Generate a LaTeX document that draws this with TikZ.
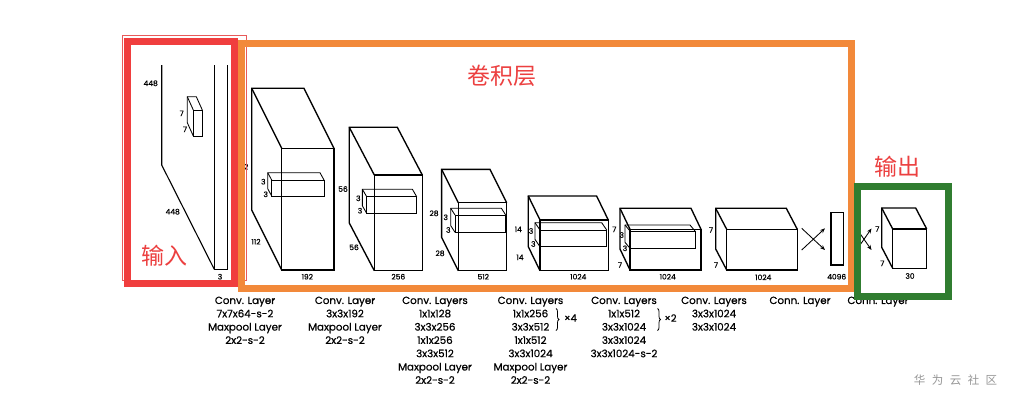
\documentclass[tikz,border=0pt]{standalone}
\usepackage{fontspec}
\setmainfont{Poppins}
\newfontfamily\capfont{Poppins}[FakeBold=0.6]
\newfontfamily\cjk{Noto Sans CJK SC}
\usetikzlibrary{arrows.meta,decorations.pathreplacing}
\definecolor{myred}{RGB}{240,62,62}
\definecolor{thinred}{RGB}{232,90,90}
\definecolor{myorange}{RGB}{242,137,58}
\definecolor{mygreen}{RGB}{48,125,48}
\definecolor{lbl}{RGB}{236,64,64}
\definecolor{wm}{RGB}{150,150,150}
% front rectangle (x1,y1)-(x2,y2), depth offset (dx,dy)
\newcommand\cuboid[7][cubeline]{%
  \draw[#1] (#2,#3) rectangle (#4,#5);
  \draw[#1] (#2,#5) -- ({#2+#6},{#5+#7}) -- ({#2+#6},{#3+#7}) -- ({#4+#6},{#3+#7}) -- (#4,#3);
  \draw[#1] (#2,#3) -- ({#2+#6},{#3+#7});
}
\begin{document}
\begin{tikzpicture}[x=1pt,y=-1pt,
  cubeline/.style={line width=1.35pt,black,line join=miter},
  kern/.style={line width=0.85pt,black},
  num/.style={font=\capfont\fontsize{7.5}{8}\selectfont,inner sep=0pt},
  captxt/.style={font=\capfont\fontsize{10.3}{13.3}\selectfont,align=center,anchor=north,inner sep=0pt},
  cjklbl/.style={font=\cjk\fontsize{23}{23}\selectfont,text=lbl,inner sep=0pt},
  framebox/.style={line width=7pt},
  arr/.style={-{Stealth[length=5pt,width=4pt]},line width=0.85pt}]
\useasboundingbox (0,0) rectangle (1010,400);
\fill[white] (0,0) rectangle (1010,400);

% ---- hidden-under-frame label
\node[num,anchor=east] (l112a) at (248.5,166.7) {112};

% ---- input slab
\draw[line width=1.1pt] (161.7,65) -- (161.7,165) -- (214.3,269.3);
\draw[line width=1.4pt] (214.3,65) -- (214.3,269.3) -- (227.3,269.3) -- (227.3,65);
\cuboid[kern]{193.3}{110}{202.3}{136}{-6}{-13.3}
\node[num] (l448a) at (150.7,83.3) {448};
\node[num] (l448b) at (172.7,211.7) {448};
\node[num] (l3in) at (220,276.7) {3};
\node[num] (l7a) at (181.7,113.3) {7};
\node[num] (l7b) at (185,129.3) {7};

% ---- cube 1
\cuboid{281.7}{148.3}{334}{270}{-30}{-60}
\cuboid[kern]{271.7}{180}{324}{196}{-4}{-7.3}
\node[num] (c1k1) at (263.3,181.7) {3};
\node[num] (c1k2) at (265.7,194.3) {3};
\node[num] (c1d) at (256,241.7) {112};
\node[num] (c1w) at (307.3,276.7) {192};

% ---- cube 2
\cuboid{374.3}{175}{422.3}{270.7}{-25}{-47.7}
\cuboid[kern]{366.7}{196.7}{416.7}{213.3}{-4.3}{-7.4}
\node[num] (c2h) at (343,189) {56};
\node[num] (c2k1) at (358.3,198.3) {3};
\node[num] (c2k2) at (360,210.7) {3};
\node[num] (c2d) at (354,247.3) {56};
\node[num] (c2w) at (398.3,276.7) {256};

% ---- cube 3
\cuboid{458.3}{202.7}{506.7}{270.7}{-16.7}{-33.3}
\cuboid[kern]{455}{215}{505.7}{232.3}{-4.3}{-6.7}
\node[num] (c3h) at (434,213.3) {28};
\node[num] (c3k1) at (445.7,217.3) {3};
\node[num] (c3k2) at (448.3,230) {3};
\node[num] (c3d) at (440,253.3) {28};
\node[num] (c3w) at (483.3,276.7) {512};

% ---- cube 4
\cuboid{540}{220}{608.3}{270.7}{-11.7}{-24}
\cuboid[kern]{540}{230}{606.7}{246.7}{-5}{-7.3}
\node[num] (c4h) at (518.3,229.3) {14};
\node[num] (c4k1) at (531,231) {3};
\node[num] (c4k2) at (533.3,244) {3};
\node[num] (c4d) at (520,257.3) {14};
\node[num] (c4w) at (578.3,276.7) {1024};

% ---- cube 5
\cuboid{630}{229.3}{701}{270}{-10}{-21}
\cuboid[kern]{630}{231}{695}{248.3}{-5}{-6}
\node[num] (c5h) at (614.3,229.3) {7};
\node[num] (c5k1) at (621.7,235) {3};
\node[num] (c5k2) at (625,248.3) {3};
\node[num] (c5d) at (620,265) {7};
\node[num] (c5w) at (667.7,276.7) {1024};

% ---- cube 6
\cuboid{726.7}{229.3}{797.3}{270}{-11}{-21}
\node[num] (c6h) at (711,230) {7};
\node[num] (c6d) at (716,265) {7};
\node[num] (c6w) at (763.3,277.3) {1024};

% ---- fc 4096
\draw[cubeline] (831,212.7) rectangle (843.3,265);
\node[num] (fcw) at (836.7,276.7) {4096};

% ---- output cube
\cuboid{892.7}{229}{926.7}{268.3}{-11}{-21}
\node[num] (oh) at (877.3,229) {7};
\node[num] (od) at (882.3,263.3) {7};
\node[num] (ow) at (910,276) {30};

% ---- cross arrows
\coordinate (xa1) at (801.7,228.3); \coordinate (xa2) at (825,250);
\coordinate (xa3) at (801.7,250);   \coordinate (xa4) at (825,228.3);
\draw[arr] (xa1) -- (xa2);
\draw[arr] (xa3) -- (xa4);
\coordinate (xb1) at (856.5,228.5); \coordinate (xb2) at (871.5,250);
\coordinate (xb3) at (856.5,250);   \coordinate (xb4) at (871.5,228.5);
\draw[arr] (xb1) -- (xb2);
\draw[arr] (xb3) -- (xb4);

% ---- captions
\node[captxt] (t1) at (245,296.5) {Conv. Layer\\7x7x64-s-2\\Maxpool Layer\\2x2-s-2};
\node[captxt] (t2) at (345,296.5) {Conv. Layer\\3x3x192\\Maxpool Layer\\2x2-s-2};
\node[captxt] (t3) at (435,296.5) {Conv. Layers\\1x1x128\\3x3x256\\1x1x256\\3x3x512\\Maxpool Layer\\2x2-s-2};
\node[captxt] (t4) at (530.5,296.5) {Conv. Layers\\1x1x256\\3x3x512\\1x1x512\\3x3x1024\\Maxpool Layer\\2x2-s-2};
\node[captxt] (t5) at (624,296.5) {Conv. Layers\\1x1x512\\3x3x1024\\3x3x1024\\3x3x1024-s-2};
\node[captxt] (t6) at (714,296.5) {Conv. Layers\\3x3x1024\\3x3x1024};
\node[captxt] (t7) at (800,296.5) {Conn. Layer};
\node[captxt] (t8) at (878,296.5) {Conn. Layer};

\draw[line width=0.8pt,decorate,decoration={brace,amplitude=3pt}] (556,308.5) -- (556,330.5);
\node[font=\capfont\fontsize{10}{10}\selectfont,inner sep=0pt] (x4) at (570.5,318) {×4};
\draw[line width=0.8pt,decorate,decoration={brace,amplitude=3pt}] (657.5,308.5) -- (657.5,330.5);
\node[font=\capfont\fontsize{10}{10}\selectfont,inner sep=0pt] (x2) at (670.5,318) {×2};

% ---- frames
\draw[thinred,line width=0.8pt] (122.7,35) rectangle (246,280);
\draw[myred,framebox] (127,41.5) rectangle (234,283.5);
\draw[myorange,framebox] (241,43.5) rectangle (851,288);
\draw[mygreen,framebox] (857,186) rectangle (948,296.5);

% ---- chinese labels
\node[cjklbl] (conv) at (502,76) {卷积层};
\node[cjklbl] (out) at (897,167) {输出};
\node[cjklbl] (in) at (164,256) {输入};
\node[font=\cjk\fontsize{11.5}{12}\selectfont,text=wm,inner sep=0pt] (wmk) at (955.5,380) {华\hspace{6.5pt}为\hspace{6.5pt}云\hspace{6.5pt}社\hspace{6.5pt}区};
\end{tikzpicture}
\end{document}
